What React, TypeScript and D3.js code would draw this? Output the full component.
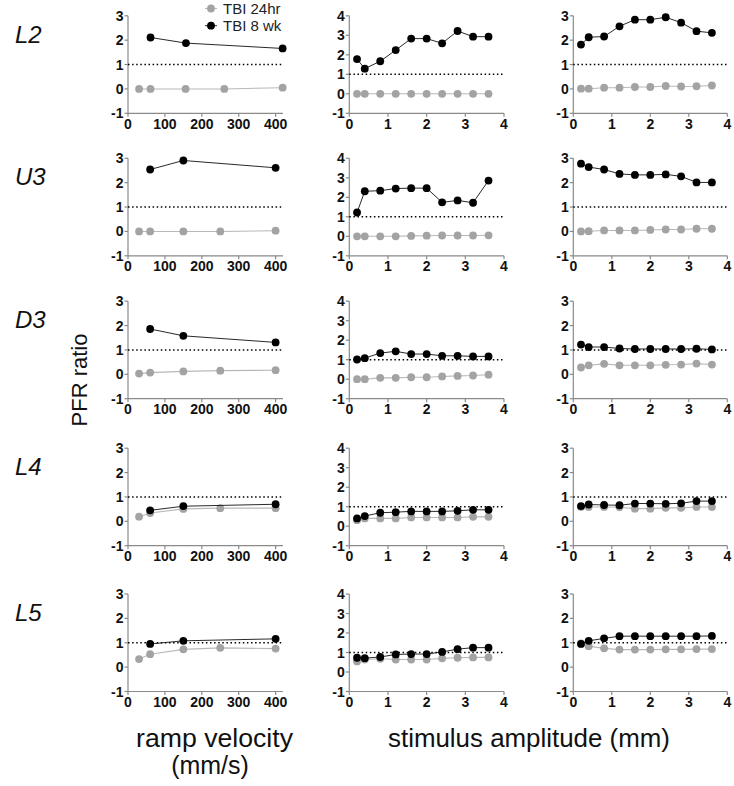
import React from "react";
import * as d3 from "d3";

// ---------- DATA ----------
const rowLabels = ["L2", "U3", "D3", "L4", "L5"];
const seriesNames = ["TBI 24hr", "TBI 8 wk"];

// ramp velocity (mm/s) x positions, per row
const velX24 = [
  [30, 61, 156, 261, 419],
  [30, 60, 150, 250, 400],
  [30, 60, 150, 250, 400],
  [30, 60, 150, 250, 400],
  [30, 60, 150, 250, 400],
];
const velX8 = [
  [61, 157, 419],
  [60, 150, 400],
  [60, 150, 400],
  [60, 150, 400],
  [60, 150, 400],
];
const velTBI24 = [
  [0, 0, 0, 0, 0.05],
  [0, 0, 0, 0, 0.03],
  [0.03, 0.07, 0.12, 0.15, 0.17],
  [0.19, 0.34, 0.51, 0.54, 0.54],
  [0.33, 0.53, 0.73, 0.79, 0.76],
];
const velTBI8 = [
  [2.11, 1.88, 1.66],
  [2.54, 2.91, 2.61],
  [1.86, 1.58, 1.31],
  [0.45, 0.62, 0.7],
  [0.95, 1.08, 1.16],
];

// stimulus amplitude (mm)
const ampX = [0.2, 0.4, 0.8, 1.2, 1.6, 2.0, 2.4, 2.8, 3.2, 3.6];
const ampA_TBI24 = [
  [0, 0, 0, 0, 0, 0, 0, 0, 0, 0],
  [0, 0, 0, 0, 0.02, 0.03, 0.04, 0.04, 0.04, 0.05],
  [0, 0, 0.07, 0.07, 0.1, 0.1, 0.14, 0.17, 0.19, 0.23],
  [0.31, 0.4, 0.4, 0.4, 0.45, 0.45, 0.45, 0.45, 0.48, 0.48],
  [0.54, 0.64, 0.68, 0.64, 0.64, 0.64, 0.7, 0.73, 0.75, 0.75],
];
const ampA_TBI8 = [
  [1.78, 1.29, 1.67, 2.24, 2.83, 2.83, 2.59, 3.22, 2.93, 2.93],
  [1.22, 2.31, 2.34, 2.45, 2.47, 2.47, 1.74, 1.84, 1.72, 2.86],
  [1.01, 1.08, 1.34, 1.43, 1.29, 1.29, 1.2, 1.2, 1.17, 1.17],
  [0.4, 0.52, 0.69, 0.72, 0.76, 0.76, 0.76, 0.79, 0.84, 0.84],
  [0.73, 0.71, 0.77, 0.9, 0.92, 0.92, 1.03, 1.17, 1.25, 1.25],
];
const ampB_TBI24 = [
  [0.01, 0.01, 0.05, 0.05, 0.08, 0.08, 0.12, 0.1, 0.11, 0.14],
  [0, 0.01, 0.04, 0.04, 0.04, 0.06, 0.08, 0.08, 0.11, 0.11],
  [0.28, 0.37, 0.43, 0.37, 0.37, 0.37, 0.39, 0.4, 0.44, 0.4],
  [0.59, 0.59, 0.59, 0.58, 0.52, 0.52, 0.55, 0.55, 0.59, 0.59],
  [0.97, 0.86, 0.77, 0.72, 0.72, 0.72, 0.73, 0.73, 0.74, 0.74],
];
const ampB_TBI8 = [
  [1.82, 2.12, 2.15, 2.57, 2.84, 2.84, 2.94, 2.72, 2.37, 2.3],
  [2.78, 2.64, 2.54, 2.36, 2.32, 2.32, 2.34, 2.26, 2.01, 2.01],
  [1.22, 1.12, 1.12, 1.06, 1.04, 1.04, 1.04, 1.04, 1.05, 1.02],
  [0.62, 0.69, 0.67, 0.66, 0.73, 0.73, 0.72, 0.74, 0.83, 0.83],
  [0.95, 1.08, 1.18, 1.27, 1.27, 1.27, 1.27, 1.27, 1.27, 1.28],
];

const velTicks = [0, 100, 200, 300, 400];
const ampTicks = [0, 1, 2, 3, 4];
const yTicks3 = [-1, 0, 1, 2, 3];
const yTicks4 = [-1, 0, 1, 2, 3, 4];
const refValue = 1;

const xLabelVel = ["ramp velocity", "(mm/s)"];
const xLabelAmp = "stimulus amplitude (mm)";
const yLabel = "PFR ratio";

// ---------- LAYOUT ----------
const W = 734;
const H = 786;
const rowTops = [15.8, 158.3, 301.2, 448.2, 594];
const panelH = 97.5;
const colDefs = [
  { x0: 128, x1: 283, domain: [0, 420], ticks: velTicks, yMax: 3 },
  { x0: 349.3, x1: 504, domain: [0, 4], ticks: ampTicks, yMax: 4 },
  { x0: 573.3, x1: 727.3, domain: [0, 4], ticks: ampTicks, yMax: 3 },
];
const FONT = "'Liberation Sans', Arial, Helvetica, sans-serif";
const GRAY = "#a3a3a3";
const GRAY_LINE = "#b8b8b8";
const AXIS = "#8a8a8a";

type Series = { xs: number[]; ys: number[] };

function Panel({ row, col }: { row: number; col: number }) {
  const c = colDefs[col];
  const top = rowTops[row];
  const bottom = top + panelH;
  const x = d3.scaleLinear().domain(c.domain).range([c.x0, c.x1]);
  const y = d3.scaleLinear().domain([-1, c.yMax]).range([bottom, top]);
  const yt = c.yMax === 4 ? yTicks4 : yTicks3;

  let s24: Series, s8: Series;
  if (col === 0) {
    s24 = { xs: velX24[row], ys: velTBI24[row] };
    s8 = { xs: velX8[row], ys: velTBI8[row] };
  } else if (col === 1) {
    s24 = { xs: ampX, ys: ampA_TBI24[row] };
    s8 = { xs: ampX, ys: ampA_TBI8[row] };
  } else {
    s24 = { xs: ampX, ys: ampB_TBI24[row] };
    s8 = { xs: ampX, ys: ampB_TBI8[row] };
  }
  const mk = (s: Series) =>
    d3
      .line<[number, number]>()
      .x((d) => x(d[0]))
      .y((d) => y(d[1]))(s.xs.map((v, i) => [v, s.ys[i]] as [number, number])) || "";

  return (
    <g>
      {/* y axis */}
      <line x1={c.x0} x2={c.x0} y1={top} y2={bottom} stroke={AXIS} strokeWidth={1.2} />
      {yt.map((t) => (
        <g key={"y" + t}>
          <line x1={c.x0 - 3.5} x2={c.x0} y1={y(t)} y2={y(t)} stroke={AXIS} strokeWidth={1.2} />
          <text
            x={c.x0 - 4.5}
            y={y(t) + 5}
            textAnchor="end"
            fontFamily={FONT}
            fontWeight="bold"
            fontSize={14}
            fill="#111"
          >
            {t}
          </text>
        </g>
      ))}
      {/* x axis */}
      <line x1={c.x0} x2={c.x1} y1={bottom} y2={bottom} stroke={AXIS} strokeWidth={1.2} />
      {c.ticks.map((t) => (
        <g key={"x" + t}>
          <line x1={x(t)} x2={x(t)} y1={bottom} y2={bottom + 3.5} stroke={AXIS} strokeWidth={1.2} />
          <text
            x={x(t)}
            y={bottom + 15.5}
            textAnchor="middle"
            fontFamily={FONT}
            fontWeight="bold"
            fontSize={14}
            fill="#111"
          >
            {t}
          </text>
        </g>
      ))}
      {/* reference line */}
      <line
        x1={c.x0}
        x2={c.x1}
        y1={y(refValue)}
        y2={y(refValue)}
        stroke="#000"
        strokeWidth={1.5}
        strokeDasharray="1.5 2.6"
      />
      {/* TBI 24hr */}
      <path d={mk(s24)} fill="none" stroke={GRAY_LINE} strokeWidth={1.1} />
      {s24.xs.map((v, i) => (
        <circle key={"g" + i} cx={x(v)} cy={y(s24.ys[i])} r={3.9} fill={GRAY} />
      ))}
      {/* TBI 8 wk */}
      <path d={mk(s8)} fill="none" stroke="#111" strokeWidth={0.9} />
      {s8.xs.map((v, i) => (
        <circle key={"b" + i} cx={x(v)} cy={y(s8.ys[i])} r={3.9} fill="#000" />
      ))}
    </g>
  );
}

export default function App() {
  return (
    <svg
      width={W}
      height={H}
      viewBox={`0 0 ${W} ${H}`}
      style={{ position: "absolute", left: 0, top: 0, background: "#fff" }}
    >
      <rect x={0} y={0} width={W} height={H} fill="#fff" />
      {rowLabels.map((lab, r) => (
        <text
          key={lab}
          x={15}
          y={rowTops[r] + 27}
          fontFamily={FONT}
          fontStyle="italic"
          fontSize={24}
          fill="#111"
        >
          {lab}
        </text>
      ))}
      {rowLabels.map((_, r) =>
        [0, 1, 2].map((c) => <Panel key={r + "-" + c} row={r} col={c} />)
      )}
      {/* legend */}
      <g>
        <line x1={205} x2={217} y1={8.5} y2={8.5} stroke={GRAY_LINE} strokeWidth={1.1} />
        <circle cx={211} cy={8.5} r={3.9} fill={GRAY} />
        <text x={223} y={13.8} fontFamily={FONT} fontSize={15} fill="#222">
          {seriesNames[0]}
        </text>
        <line x1={205} x2={217} y1={25.7} y2={25.7} stroke="#111" strokeWidth={0.9} />
        <circle cx={211} cy={25.7} r={3.9} fill="#000" />
        <text x={223} y={31} fontFamily={FONT} fontSize={15} fill="#222">
          {seriesNames[1]}
        </text>
      </g>
      {/* y label */}
      <text
        transform="translate(87,380) rotate(-90)"
        textAnchor="middle"
        fontFamily={FONT}
        fontSize={22}
        fill="#111"
      >
        {yLabel}
      </text>
      {/* x labels */}
      <text x={214.5} y={746.5} textAnchor="middle" fontFamily={FONT} fontSize={25} fill="#111" textLength={157} lengthAdjust="spacingAndGlyphs">
        {xLabelVel[0]}
      </text>
      <text x={210} y={774} textAnchor="middle" fontFamily={FONT} fontSize={25} fill="#111">
        {xLabelVel[1]}
      </text>
      <text x={529} y={746.5} textAnchor="middle" fontFamily={FONT} fontSize={25} fill="#111" textLength={282} lengthAdjust="spacingAndGlyphs">
        {xLabelAmp}
      </text>
    </svg>
  );
}
